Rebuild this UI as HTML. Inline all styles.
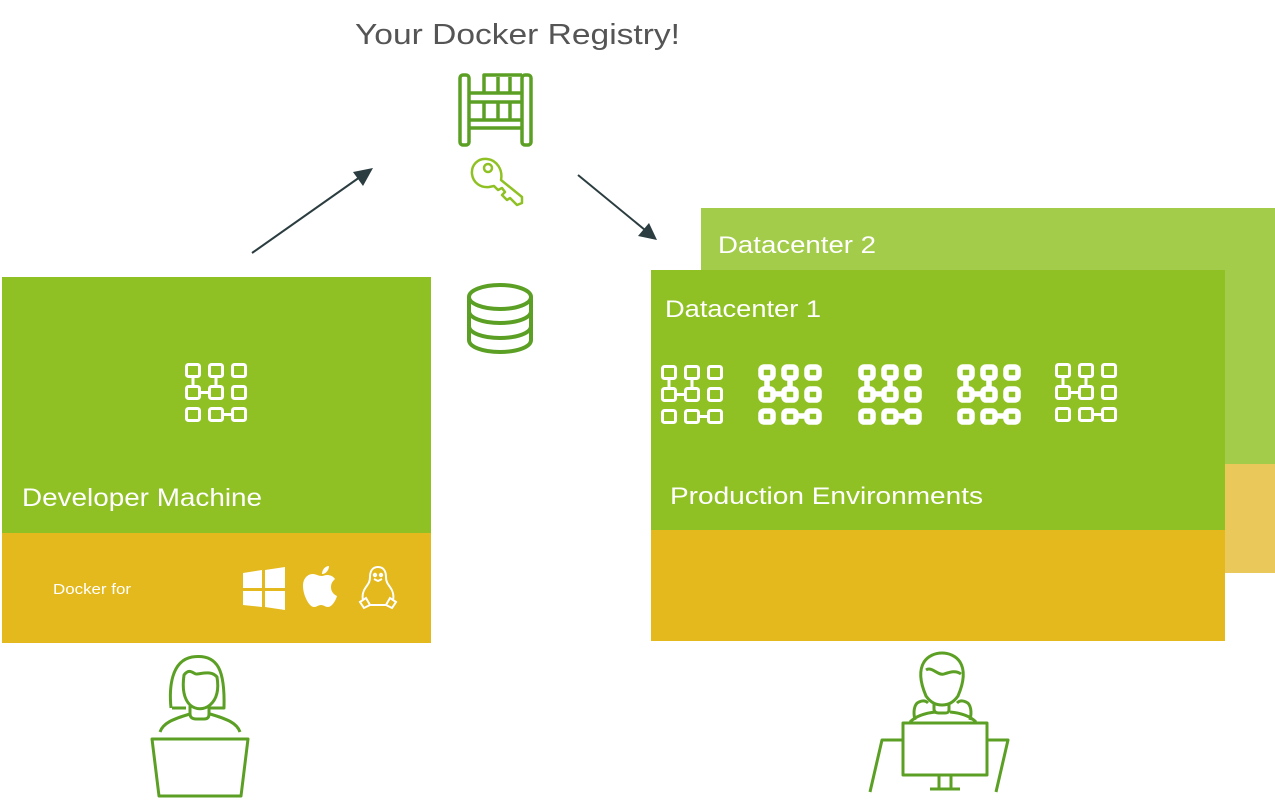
<!DOCTYPE html>
<html><head><meta charset="utf-8"><style>
html,body{margin:0;padding:0;background:#fff;}
svg{display:block;}
text{font-family:"Liberation Sans",sans-serif;}
</style></head><body>
<svg width="1275" height="800" viewBox="0 0 1275 800" xmlns="http://www.w3.org/2000/svg">
<defs>
<g id="srv" fill="none" stroke="#fff" stroke-width="3">
  <rect x="1.5" y="1.5" width="13" height="12" rx="2"/>
  <rect x="24.5" y="1.5" width="13" height="12" rx="2"/>
  <rect x="47.5" y="1.5" width="13" height="12" rx="2"/>
  <rect x="1.5" y="23.5" width="13" height="12" rx="2"/>
  <rect x="24.5" y="23.5" width="13" height="12" rx="2"/>
  <rect x="47.5" y="23.5" width="13" height="12" rx="2"/>
  <rect x="1.5" y="45.5" width="13" height="12" rx="2"/>
  <rect x="24.5" y="45.5" width="13" height="12" rx="2"/>
  <rect x="47.5" y="45.5" width="13" height="12" rx="2"/>
  <path d="M8 13.5V23.5M31 13.5V23.5M14.5 29.5H24.5M37.5 51.5H47.5"/>
</g>
<g id="srvb" fill="none" stroke="#fff" stroke-width="5.5">
  <rect x="3" y="3" width="12" height="11" rx="3"/>
  <rect x="26" y="3" width="12" height="11" rx="3"/>
  <rect x="49" y="3" width="12" height="11" rx="3"/>
  <rect x="3" y="25" width="12" height="11" rx="3"/>
  <rect x="26" y="25" width="12" height="11" rx="3"/>
  <rect x="49" y="25" width="12" height="11" rx="3"/>
  <rect x="3" y="47" width="12" height="11" rx="3"/>
  <rect x="26" y="47" width="12" height="11" rx="3"/>
  <rect x="49" y="47" width="12" height="11" rx="3"/>
  <path d="M9 14V25M32 14V25M15 30H26M38 52H49"/>
</g>
</defs>

<!-- Datacenter 2 -->
<rect x="701" y="208" width="574" height="256" fill="#a3cc4a"/>
<rect x="701" y="464" width="574" height="109" fill="#eac95a"/>
<text x="718" y="253" font-size="24" fill="#fff" textLength="158" lengthAdjust="spacingAndGlyphs">Datacenter 2</text>

<!-- Datacenter 1 -->
<rect x="651" y="270" width="574" height="260" fill="#8fc124"/>
<rect x="651" y="530" width="574" height="111" fill="#e3b91e"/>
<text x="665" y="317" font-size="24" fill="#fff" textLength="156" lengthAdjust="spacingAndGlyphs">Datacenter 1</text>
<text x="670" y="504" font-size="24" fill="#fff" textLength="313" lengthAdjust="spacingAndGlyphs">Production Environments</text>
<use href="#srv" x="661" y="365"/>
<use href="#srvb" x="758" y="364"/>
<use href="#srvb" x="858" y="364"/>
<use href="#srvb" x="957" y="364"/>
<use href="#srv" x="1055" y="363"/>

<!-- Developer machine -->
<rect x="2" y="277" width="429" height="256" fill="#8fc124"/>
<rect x="2" y="533" width="429" height="110" fill="#e3b91e"/>
<text x="22" y="506" font-size="25" fill="#fff" textLength="240" lengthAdjust="spacingAndGlyphs">Developer Machine</text>
<text x="53" y="594" font-size="15" fill="#fff" textLength="78" lengthAdjust="spacingAndGlyphs">Docker for</text>
<use href="#srv" x="185" y="363"/>

<!-- windows -->
<g fill="#fff">
  <polygon points="243,573 262,570 262,588 243,588"/>
  <polygon points="265,570 285,567 285,588 265,588"/>
  <polygon points="243,591 262,591 262,607 243,605"/>
  <polygon points="265,591 285,591 285,610 265,607"/>
</g>
<!-- apple -->
<path fill="#fff" d="M322,576c-4,0-6,-2-9,-2c-6,0-10,5-10,12c0,9 6,21 11,21c3,0 4,-2 7,-2c3,0 4,2 7,2c4,0 8,-7 9,-11c-4,-2-6,-5-6,-9c0,-4 2,-6 4,-8c-2,-3-5,-4-8,-4c-2,0-4,1-5,1z M322,574c0,-4 3,-8 7,-8c0,4-3,8-7,8z"/>
<!-- tux -->
<g fill="none" stroke="#fff" stroke-width="2">
  <path d="M378,567c-6,0-8,5-8,10c0,4-1,6-4,10c-3,4-4,9-3,13M378,567c6,0 8,5 8,10c0,4 1,6 4,10c3,4 4,9 3,13"/>
  <path d="M360,602l6,-4 4,7 -6,3z M396,602l-6,-4 -4,7 6,3z M370,605h16"/>
  <circle cx="375" cy="575" r="1.2"/><circle cx="381" cy="575" r="1.2"/>
  <path d="M374,579l4,2 4,-2"/>
</g>

<!-- Registry title -->
<text x="355" y="44" font-size="29" fill="#555" textLength="325" lengthAdjust="spacingAndGlyphs">Your Docker Registry!</text>
<!-- crib icon -->
<g fill="none" stroke="#5ba024" stroke-width="3.5" stroke-linejoin="round">
  <rect x="460" y="75" width="9" height="70" rx="3"/>
  <rect x="522" y="75" width="9" height="70" rx="3"/>
  <path d="M469,93h53 M469,102h53 M469,120h53 M469,128h53"/>
  <path d="M484,93v-18h38 M498,77v16 M510,77v16"/>
  <path d="M484,102v18 M498,102v18 M510,102v18"/>
</g>
<!-- key -->
<g fill="none" stroke="#8fc124" stroke-width="2.5" stroke-linejoin="round">
  <path d="M501,180c2,-10-4,-20-14,-21c-9,-1-16,6-15,15c1,9 9,14 17,13l5,-1l4,4l4,-2l3,4l-3,3l5,5l3,-2l7,7l5,-2l0,-6z"/>
  <circle cx="488" cy="168" r="4"/>
</g>
<!-- database -->
<g fill="none" stroke="#5ba024" stroke-width="4">
  <ellipse cx="500" cy="297" rx="31" ry="12"/>
  <path d="M469,297v43c0,7 14,12 31,12s31,-5 31,-12v-43"/>
  <path d="M469,311c0,7 14,12 31,12s31,-5 31,-12 M469,326c0,7 14,12 31,12s31,-5 31,-12"/>
</g>

<!-- arrows -->
<g stroke="#2b3d40" stroke-width="2" fill="#2b3d40">
  <line x1="252" y1="253" x2="360" y2="177"/>
  <polygon points="373,168 353,172 363,186" stroke="none"/>
  <line x1="578" y1="175" x2="645" y2="230"/>
  <polygon points="657,240 638,236 649,223" stroke="none"/>
</g>

<!-- female user -->
<g fill="none" stroke="#5ba024" stroke-width="3" stroke-linejoin="round">
  <path d="M171,708c-2,-20 0,-47 21,-51c27,-4 33,15 32,51c-4,0-10,0-14,0"/>
  <path d="M172,708c5,0 10,0 14,0"/>
  <path d="M184,675c6,-8 10,0 13,-1c8,-1 15,-3 20,3c2,12 0,22-7,28c-6,5-14,5-20,0c-6,-6-8,-16-6,-30z"/>
  <path d="M190,706v8c0,3 2,5 6,5h8c4,0 5,-2 5,-5v-8"/>
  <path d="M160,732c3,-9 13,-13 30,-18 M210,714c17,5 27,9 30,18"/>
  <path d="M152,739h96l-7,57h-82z"/>
</g>
<!-- male user -->
<g fill="none" stroke="#5ba024" stroke-width="3" stroke-linejoin="round">
  <path d="M926,696c-6,-14-7,-26-2,-34c8,-12 28,-12 36,0c5,8 4,20-2,34c-5,7-10,9-16,9s-11,-2-16,-9z"/>
  <path d="M926,670c6,-4 12,6 18,4c6,-2 12,-4 17,0"/>
  <path d="M934,703v6c0,3 2,4 5,4h6c3,0 4,-1 4,-4v-6"/>
  <path d="M915,720c-2,-8-1,-16 4,-18c4,-2 7,-1 9,1 M970,720c2,-8 1,-16-4,-18c-4,-2-7,-1-9,1"/>
  <path d="M910,722c6,-6 15,-9 26,-10 M976,722c-6,-6-15,-9-26,-10"/>
  <rect x="903" y="723" width="84" height="52"/>
  <path d="M903,740h-21l-12,52 M987,740h21l-12,52"/>
  <path d="M939,775v13 M951,775v13 M930,789h30"/>
</g>
</svg>
</body></html>
